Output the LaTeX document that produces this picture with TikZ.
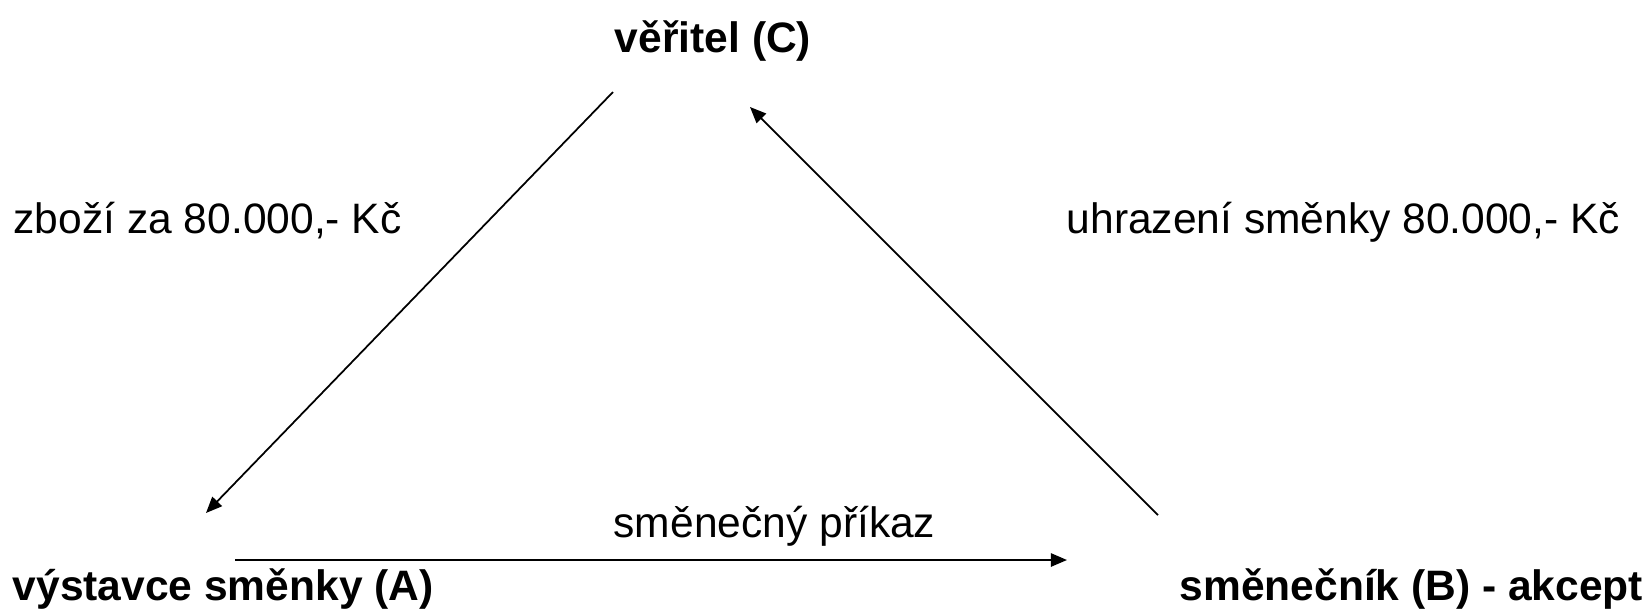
\documentclass[tikz,border=0pt]{standalone}
\usepackage{fontspec}
\setmainfont{Liberation Sans}
\usetikzlibrary{arrows.meta,positioning}

\begin{document}
\begin{tikzpicture}[x=0.01cm, y=-0.01cm,
  party/.style={inner sep=0pt, font=\fontsize{12.1}{14}\selectfont\bfseries},
  flowlabel/.style={inner sep=0pt, font=\fontsize{12.1}{14}\selectfont},
  flow/.style={-{Triangle[length=4.6pt, width=3.8pt]}, line width=0.5pt}]

% frame
\useasboundingbox (0,0) rectangle (1650,608);

% Parties
\node[party, anchor=base] (creditor) at (713,52) {věřitel (C)};
\node[party, anchor=base west] (drawer) at (12,600) {výstavce směnky (A)};
\node[party, anchor=base west] (drawee) at (1179,600) {směnečník (B) - akcept};

% Arrow ends
\coordinate (creditor-out) at (613,92);
\coordinate (creditor-in) at (750,107);
\coordinate (drawer-in) at (206,513);
\coordinate (drawer-out) at (235,560);
\coordinate (drawee-in) at (1067,560);
\coordinate (drawee-out) at (1158,515);

% Arrows
\draw[flow] (creditor-out) -- (drawer-in);
\draw[flow] (drawee-out) -- (creditor-in);
\draw[flow] (drawer-out) -- (drawee-in);

% Labels
\node[flowlabel, anchor=base west] (goods) at (13,233) {zboží za 80.000,- Kč};
\node[flowlabel, anchor=base west] (payment) at (1066,233) {uhrazení směnky 80.000,- Kč};
\node[flowlabel, anchor=base west] (order) at (613,537) {směnečný příkaz};

\end{tikzpicture}
\end{document}
